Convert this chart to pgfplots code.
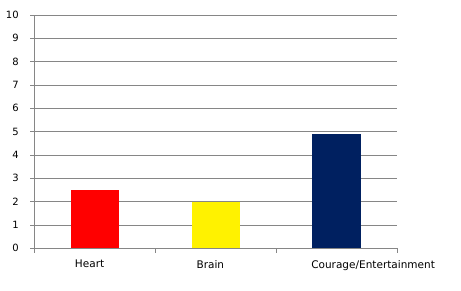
\documentclass[border=0pt]{standalone}
\usepackage{pgfplots}
\pgfplotsset{compat=1.18}
\usepackage{fontspec}
\setmainfont{DejaVu Sans}
\definecolor{gridgray}{HTML}{868686}
\definecolor{navy}{HTML}{002060}
\begin{document}
\fontsize{10bp}{12bp}\selectfont
\begin{tikzpicture}
\useasboundingbox (-34.7bp,-42.7bp) rectangle (426.3bp,248.3bp);
\begin{axis}[
  at={(0,0)}, anchor=south west,
  scale only axis,
  width=362.3bp, height=233.3bp,
  xmin=-0.5, xmax=2.5, ymin=0, ymax=10,
  axis lines*=left,
  axis line style={draw=gridgray, line width=0.8bp},
  ytick={0,1,...,10},
  ymajorgrids,
  grid style={draw=gridgray, line width=0.8bp},
  xtick={0,1},
  xticklabels={Heart,Brain},
  extra x ticks={2},
  extra x tick labels={Courage/Entertainment},
  extra x tick style={xticklabel style={xshift=42bp}},
  x tick style={draw=none},
  minor xtick={-0.5,0.5,1.5,2.5},
  minor x tick style={draw=gridgray, line width=0.8bp},
  y tick style={draw=gridgray, line width=0.8bp},
  tick align=outside,
  major tick length=4.5bp,
  minor tick length=4.5bp,
  /pgf/number format/assume math mode=true,
  tick label style={font=\fontsize{10bp}{12bp}\selectfont, text=black},
  yticklabel style={xshift=-8bp},
  xticklabel style={yshift=-4bp, xshift=-5.5bp, font=\fontsize{10.5bp}{12bp}\selectfont},
  ybar, bar width=48.3bp, bar shift=0pt,
]
\addplot[fill=red, draw=none] coordinates {(0,2.5)};
\addplot[fill=yellow, draw=none] coordinates {(1,2.0)};
\addplot[fill=navy, draw=none] coordinates {(2,4.9)};
\end{axis}
\end{tikzpicture}
\end{document}
